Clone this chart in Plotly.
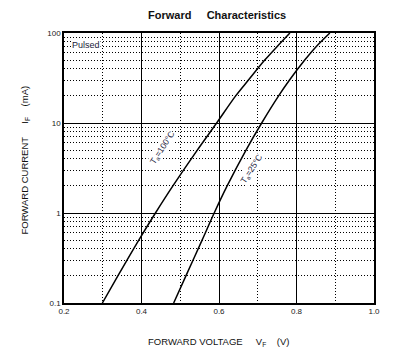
import plotly.graph_objects as go

# Data (V in volts, I in mA)
v_100 = [0.299, 0.339, 0.393, 0.436, 0.481, 0.544, 0.594, 0.643, 0.676, 0.718, 0.749, 0.783]
i_100 = [0.1, 0.2, 0.5, 1.0, 2.0, 5.0, 10.0, 20.0, 30.0, 50.0, 70.0, 100.0]

v_25 = [0.483, 0.5146, 0.5564, 0.5876, 0.621, 0.6697, 0.7102, 0.7538, 0.782, 0.8212, 0.850, 0.886]
i_25 = [0.1, 0.2, 0.5, 1.0, 2.0, 5.0, 10.0, 20.0, 30.0, 50.0, 70.0, 100.0]

x_ticks = [0.2, 0.4, 0.6, 0.8, 1.0]
x_ticktext = ["0.2", "0.4", "0.6", "0.8", "1.0"]
y_ticks = [0.1, 1, 10, 100]
y_ticktext = ["0.1", "1", "10", "100"]

FONT = "Liberation Sans, Arial, sans-serif"
NB = "\u00a0"

fig = go.Figure()
for v, i in [(v_100, i_100), (v_25, i_25)]:
    fig.add_trace(go.Scatter(x=v, y=i, mode="lines",
                             line=dict(color="black", width=1.5, shape="spline", smoothing=0.8),
                             showlegend=False, hoverinfo="skip"))

# page body has an 8px margin, so the figure is 8px smaller and margins shifted
fig.update_layout(
    width=406, height=350,
    margin=dict(l=56, r=40, t=25, b=55),
    paper_bgcolor="white", plot_bgcolor="white",
    font=dict(family=FONT, color="black", size=8),
    title=dict(text="<b>Forward" + NB * 5 + "Characteristics</b>",
               x=0.515, xanchor="center", y=0.98, yanchor="middle",
               font=dict(size=11, family=FONT, color="#111")),
)

fig.update_xaxes(
    range=[0.2, 1.0], tickvals=x_ticks, ticktext=x_ticktext,
    showgrid=True, gridcolor="black", gridwidth=1.2,
    showline=True, linecolor="black", linewidth=1.5, mirror=True,
    ticks="", zeroline=False,
    minor=dict(dtick=0.1, tick0=0.2, showgrid=True, gridcolor="black",
               griddash="1px,2px", gridwidth=1),
    tickfont=dict(size=8, color="#222"),
)
fig.update_yaxes(
    type="log", range=[-1, 2], tickvals=y_ticks, ticktext=y_ticktext,
    showgrid=True, gridcolor="black", gridwidth=1.2,
    showline=True, linecolor="black", linewidth=1.5, mirror=True,
    ticks="", zeroline=False,
    minor=dict(dtick="D1", showgrid=True, gridcolor="black",
               griddash="1px,2px", gridwidth=1),
    tickfont=dict(size=8, color="#222"),
)

annotations = [
    dict(text="FORWARD VOLTAGE" + NB * 5 + "V<sub>F</sub>" + NB * 4 + "(V)",
         xref="paper", yref="paper", x=0.5, y=-0.145, showarrow=False,
         xanchor="center", yanchor="middle", font=dict(size=9.5, color="#111")),
    dict(text="FORWARD CURRENT" + NB * 5 + "I<sub>F</sub>" + NB * 4 + "(mA)",
         xref="paper", yref="paper", x=-0.127, y=0.53, showarrow=False, textangle=-90,
         xanchor="center", yanchor="middle", font=dict(size=9.5, color="#111")),
    dict(text="Pulsed", xref="paper", yref="paper", x=0.024, y=0.955, showarrow=False,
         xanchor="left", yanchor="middle", bgcolor="white", borderpad=0,
         font=dict(size=9, color="#1a1a3a")),
    dict(text="T<sub>a</sub>=100\u00b0C", x=0.455, y=0.726, xref="x", yref="y",
         showarrow=False, textangle=-57, bgcolor="white", borderpad=0,
         font=dict(size=8.5, color="#1a1a3a")),
    dict(text="T<sub>a</sub>=25\u00b0C", x=0.684, y=0.481, xref="x", yref="y",
         showarrow=False, textangle=-57, bgcolor="white", borderpad=0,
         font=dict(size=8.5, color="#1a1a3a")),
]
fig.update_layout(annotations=annotations)

fig.write_html("out.html")
